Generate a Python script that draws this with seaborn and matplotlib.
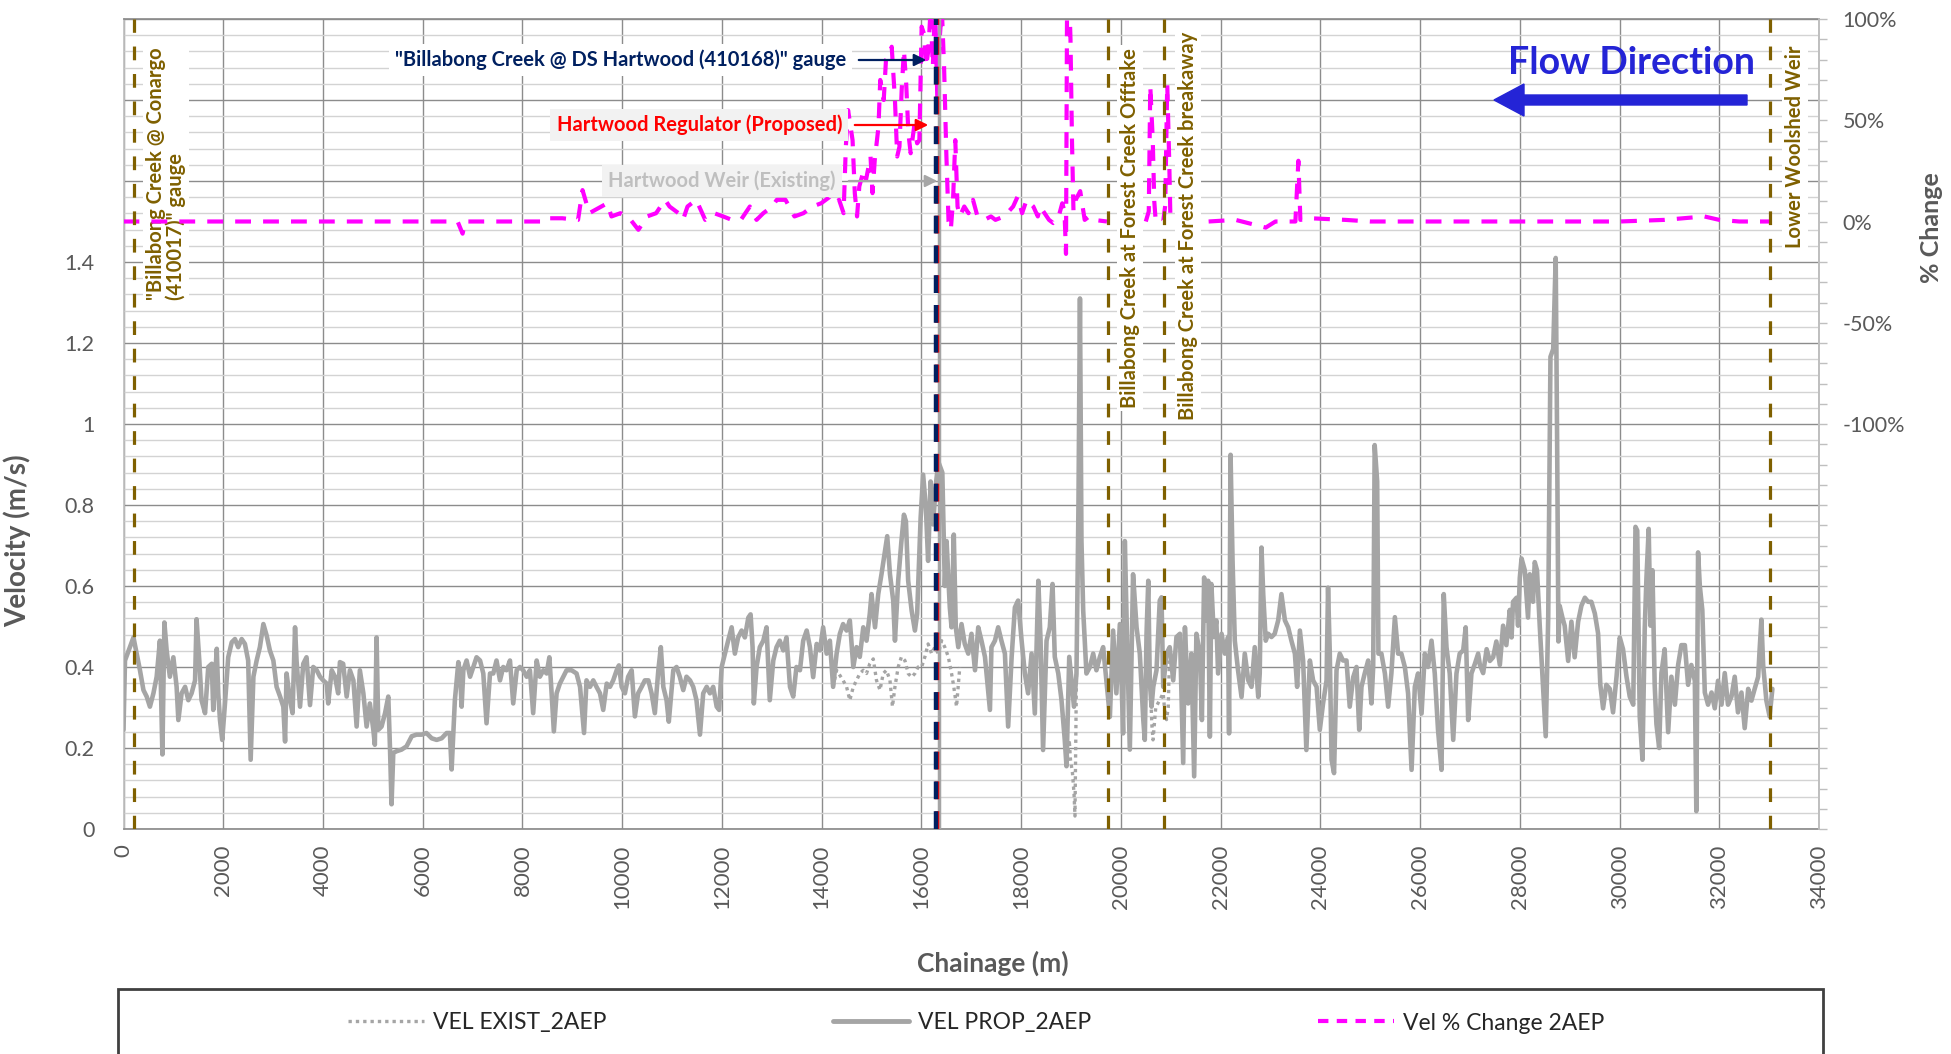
import numpy as np
import pandas as pd
import matplotlib
matplotlib.use("Agg")
import matplotlib.pyplot as plt
from matplotlib.ticker import MultipleLocator, FuncFormatter
from matplotlib.lines import Line2D
from matplotlib.patches import Rectangle, FancyArrow, FancyArrowPatch
import matplotlib.transforms as mtransforms
import seaborn as sns

# ---------------------------------------------------------------- data
# Proposed-case velocity along the creek (chainage m, velocity m/s)
chainage_prop = [
    0, 30, 200, 265, 330, 400, 465, 530, 600, 665, 730, 780, 820, 865, 930, 1000, 1065, 1100, 1165, 1235,
    1300, 1365, 1435, 1465, 1520, 1565, 1635, 1700, 1770, 1800, 1870, 1900, 1935, 1980, 2035, 2100, 2170,
    2235, 2300, 2370, 2435, 2500, 2550, 2605, 2670, 2735, 2805, 2870, 2935, 3005, 3070, 3140, 3205, 3240,
    3270, 3340, 3390, 3440, 3470, 3540, 3605, 3670, 3740, 3805, 3875, 3940, 4005, 4075, 4105, 4175, 4240,
    4305, 4340, 4405, 4475, 4540, 4610, 4675, 4740, 4810, 4875, 4940, 5010, 5040, 5075, 5110, 5175, 5245,
    5310, 5345, 5375, 5410, 5475, 5575, 5675, 5780, 5875, 5980, 6075, 6180, 6280, 6380, 6480, 6545, 6580,
    6645, 6715,
    6750, 6780, 6815, 6880, 6950, 7015, 7080, 7150, 7215, 7280, 7350, 7415, 7480, 7550, 7615, 7680, 7750,
    7815, 7885, 7950, 8015, 8085, 8150, 8215, 8285, 8350, 8420, 8485, 8540, 8585, 8630, 8685, 8750, 8820,
    8885, 8985, 9085, 9155, 9235, 9285, 9355, 9420, 9485, 9555, 9620, 9690, 9755, 9820, 9890, 9935, 9990,
    10055, 10120, 10190, 10255, 10320, 10390, 10455, 10525, 10590, 10655, 10725, 10775, 10825, 10890,
    10935, 11025, 11090, 11155, 11225, 11290, 11360, 11425, 11490, 11560, 11625, 11695, 11760, 11825,
    11895, 11945, 11995, 12060, 12125, 12195, 12260, 12325, 12395, 12460, 12530, 12575, 12615, 12640,
    12695, 12760, 12830, 12895, 12960, 13030, 13095, 13160, 13230, 13295, 13365, 13430, 13495, 13565,
    13630, 13700, 13765, 13830, 13900, 13965, 14030, 14100, 14165, 14230, 14300, 14365, 14430, 14500,
    14565, 14635, 14700, 14765, 14835, 14900, 14965, 15000, 15070, 15135, 15200, 15270, 15315, 15370,
    15435, 15470, 15535, 15600, 15650, 15690, 15735, 15805, 15870, 15915, 15985, 16035, 16090, 16135,
    16185, 16235, 16290, 16340, 16420, 16470, 16505, 16570, 16605, 16650, 16690, 16740, 16805, 16870,
    16940, 17005, 17075, 17140, 17205, 17275, 17375, 17405, 17475, 17540, 17605, 17675, 17740, 17810,
    17875, 17940, 18010, 18075, 18140, 18210, 18275, 18345, 18390, 18440, 18510, 18575, 18630, 18675,
    18745, 18810, 18875, 18910, 18965, 19010, 19060, 19110, 19150, 19180, 19210, 19245, 19310, 19380,
    19445, 19510, 19580, 19645, 19710, 19780, 19845, 19910, 19980, 20045, 20080, 20125, 20180, 20245,
    20315,
    20380, 20450, 20480, 20515, 20550, 20580, 20615, 20650, 20715, 20780, 20815, 20850, 20915, 20980,
    21050, 21115, 21185, 21250, 21285, 21350, 21415, 21470, 21515, 21585, 21625, 21670, 21715, 21750,
    21785, 21815, 21865, 21915, 21950, 22020, 22085, 22150, 22170, 22200, 22240, 22285, 22350, 22420,
    22485, 22555, 22620, 22685, 22755, 22785, 22820, 22855, 22905, 22955, 23020, 23085, 23155, 23220,
    23290, 23355, 23420, 23490, 23535, 23590, 23655, 23720, 23790, 23855, 23925, 23990, 24055, 24125,
    24155, 24190, 24225, 24275, 24325, 24390, 24455, 24525, 24590, 24660, 24725, 24780, 24825, 24890,
    24960, 25025, 25060, 25090, 25140, 25165, 25225, 25295, 25360, 25425, 25495, 25560, 25625, 25695,
    25760, 25830, 25895, 25960, 26030, 26095, 26160, 26230, 26295, 26360, 26430, 26475, 26530, 26595,
    26665, 26730, 26795, 26865, 26915, 26965, 27030, 27100, 27165,
    27200, 27265, 27335, 27400, 27465, 27530, 27600, 27665, 27730, 27800, 27835, 27865, 27935, 27965,
    28000, 28035, 28100, 28165, 28200, 28265, 28300, 28345, 28400, 28465, 28520, 28570, 28615, 28670,
    28720, 28750, 28775, 28800, 28855, 28900, 28970, 29035, 29100, 29170, 29235, 29305, 29370, 29435,
    29505, 29570, 29615, 29670, 29735, 29805, 29870, 29940, 30005, 30070, 30140, 30205, 30275, 30320,
    30355, 30405, 30460, 30505, 30540, 30585, 30620, 30660, 30705, 30740, 30795, 30840, 30905, 30975,
    31040, 31110, 31175, 31240, 31310, 31375, 31440, 31510, 31540, 31575, 31610, 31660, 31710, 31775,
    31845, 31910, 31975, 32045, 32110, 32175, 32245, 32310, 32375, 32445, 32510, 32580, 32645, 32710,
    32780, 32810, 32845, 32880, 32945, 33010, 33065,
]
vel_prop = [
    0.245, 0.416, 0.473, 0.433, 0.392, 0.343, 0.327, 0.302, 0.335, 0.376, 0.465, 0.184, 0.510, 0.441, 0.376,
    0.424, 0.351, 0.269, 0.335, 0.351, 0.318, 0.335, 0.367, 0.518, 0.416, 0.318, 0.286, 0.400, 0.408, 0.294,
    0.445, 0.335, 0.269, 0.220, 0.310, 0.424, 0.461, 0.469, 0.449, 0.469, 0.457, 0.416, 0.171, 0.376, 0.416,
    0.449, 0.506, 0.478, 0.441, 0.416, 0.351, 0.327, 0.302, 0.216, 0.384, 0.318, 0.286, 0.498, 0.416, 0.302,
    0.408, 0.424, 0.306, 0.400, 0.392, 0.376, 0.367, 0.359, 0.310, 0.392, 0.376, 0.335, 0.412, 0.408, 0.327,
    0.392, 0.367, 0.253, 0.392, 0.335, 0.253, 0.310, 0.245, 0.208, 0.473, 0.245, 0.253, 0.286, 0.327, 0.196,
    0.061, 0.188, 0.192, 0.196, 0.204, 0.229, 0.233, 0.233, 0.237, 0.224, 0.220, 0.224, 0.237, 0.237, 0.147,
    0.318, 0.412,
    0.384, 0.302, 0.392, 0.416, 0.376, 0.400, 0.424, 0.416, 0.384, 0.261, 0.384, 0.384, 0.416, 0.367, 0.400,
    0.392, 0.416, 0.310, 0.392, 0.400, 0.392, 0.376, 0.392, 0.286, 0.416, 0.376, 0.392, 0.384, 0.424, 0.335,
    0.241, 0.335, 0.359, 0.376, 0.392, 0.392, 0.384, 0.351, 0.237, 0.367, 0.351, 0.367, 0.351, 0.335, 0.294,
    0.359, 0.351, 0.367, 0.392, 0.404, 0.351, 0.335, 0.376, 0.392, 0.278, 0.335, 0.351, 0.367, 0.367, 0.335,
    0.286, 0.392, 0.449, 0.351, 0.318, 0.265, 0.392, 0.400, 0.376, 0.343, 0.376, 0.367, 0.351, 0.318, 0.233,
    0.335, 0.351, 0.335, 0.351, 0.302, 0.294, 0.400, 0.433, 0.465, 0.498, 0.433, 0.473, 0.490, 0.473, 0.522,
    0.530, 0.449, 0.310, 0.400, 0.449, 0.465, 0.498, 0.318, 0.416, 0.449, 0.465, 0.441, 0.473, 0.351, 0.327,
    0.400, 0.392,
    0.465, 0.490, 0.449, 0.375, 0.457, 0.441, 0.498, 0.433, 0.465, 0.351, 0.433, 0.482, 0.506, 0.490, 0.515,
    0.400, 0.449, 0.425, 0.498, 0.465, 0.531, 0.580, 0.498, 0.580, 0.629, 0.686, 0.723, 0.629, 0.564, 0.465,
    0.613, 0.711, 0.776, 0.760, 0.613, 0.539, 0.490, 0.531, 0.768, 0.875, 0.793, 0.662, 0.858, 0.752, 0.850,
    0.907, 0.880, 0.600, 0.711, 0.547, 0.498, 0.727, 0.498, 0.449, 0.506, 0.457, 0.433, 0.482, 0.392, 0.498,
    0.465, 0.425, 0.294, 0.449, 0.465, 0.498, 0.465, 0.433, 0.253, 0.425, 0.547, 0.564, 0.465, 0.384, 0.335,
    0.433, 0.285, 0.613, 0.465, 0.195, 0.465, 0.498, 0.605, 0.425, 0.384, 0.318, 0.220, 0.155, 0.425, 0.367,
    0.302, 0.384, 0.800, 1.310, 0.711, 0.539, 0.384, 0.400, 0.433, 0.392, 0.425, 0.449, 0.367, 0.277, 0.490,
    0.335, 0.506, 0.236, 0.711, 0.465, 0.196, 0.629, 0.498,
    0.433, 0.269, 0.220, 0.482, 0.613, 0.367, 0.302, 0.351, 0.392, 0.564, 0.572, 0.351, 0.433, 0.449, 0.367,
    0.474, 0.482, 0.163, 0.498, 0.310, 0.433, 0.130, 0.482, 0.433, 0.269, 0.621, 0.515, 0.613, 0.228, 0.605,
    0.474, 0.515, 0.384, 0.482, 0.433, 0.474, 0.236, 0.924, 0.662, 0.465, 0.392, 0.326, 0.433, 0.367, 0.351,
    0.449, 0.326, 0.384, 0.695, 0.580, 0.465, 0.482, 0.474, 0.482, 0.515, 0.580, 0.515, 0.498, 0.465, 0.433,
    0.351, 0.490, 0.416, 0.195, 0.416, 0.367, 0.351, 0.245, 0.310, 0.367, 0.596, 0.433, 0.171, 0.138, 0.392,
    0.433, 0.416, 0.416, 0.302, 0.375, 0.400, 0.245, 0.351, 0.384, 0.416, 0.310, 0.400, 0.948, 0.858, 0.433,
    0.433, 0.384, 0.302, 0.384, 0.523, 0.433, 0.433, 0.400, 0.335, 0.146, 0.351, 0.384, 0.285, 0.433, 0.400,
    0.465, 0.384, 0.245, 0.146, 0.580, 0.449, 0.384, 0.220, 0.384, 0.433, 0.441, 0.498, 0.269, 0.384, 0.408,
    0.433,
    0.405, 0.385, 0.444, 0.415, 0.424, 0.463, 0.405, 0.502, 0.454, 0.541, 0.473, 0.561, 0.571, 0.502, 0.620,
    0.668, 0.639, 0.522, 0.629, 0.561, 0.659, 0.639, 0.502, 0.356, 0.229, 0.522, 1.166, 1.185, 1.410, 0.932,
    0.463, 0.551, 0.522, 0.502, 0.415, 0.512, 0.424, 0.512, 0.551, 0.571, 0.561, 0.561, 0.532, 0.483, 0.356,
    0.298, 0.356, 0.346, 0.288, 0.376, 0.473, 0.444, 0.376, 0.327, 0.307, 0.746, 0.737, 0.278, 0.171, 0.493,
    0.620, 0.741, 0.502, 0.639, 0.356, 0.259, 0.200, 0.385, 0.444, 0.239, 0.376, 0.307, 0.405, 0.454, 0.454,
    0.356, 0.405, 0.366, 0.044, 0.683, 0.600, 0.541, 0.337, 0.307, 0.337, 0.298, 0.366, 0.307, 0.385, 0.307,
    0.327, 0.376, 0.288, 0.337, 0.249, 0.346, 0.317, 0.346, 0.376, 0.444, 0.517, 0.405, 0.317, 0.278, 0.346,
]

# Existing-case velocity, listed only on the reaches where it departs from the proposed case
exist_reach = [1] * 39 + [2] * 7 + [3] * 10
exist_chainage = [
    14230, 14300, 14430, 14500, 14565, 14635, 14700, 14765, 14835, 14900, 14965, 15035, 15100, 15170,
    15235, 15300, 15370, 15420, 15470, 15535, 15600, 15670, 15735, 15805, 15870, 15935, 16005, 16070,
    16135, 16205, 16270, 16340, 16405, 16470, 16540, 16605, 16650, 16705, 16770,
    18910, 18965, 18990, 19030, 19060, 19080, 19110,
    20580, 20600, 20620, 20645, 20700, 20850, 20880, 20915, 20950, 20980,
]
exist_velocity = [
    0.351, 0.392, 0.367, 0.351, 0.318, 0.351, 0.367, 0.384, 0.392, 0.384, 0.408, 0.420, 0.367, 0.343,
    0.384, 0.392, 0.367, 0.302, 0.351, 0.400, 0.425, 0.416, 0.384, 0.375, 0.384, 0.400, 0.400, 0.425,
    0.457, 0.433, 0.449, 0.433, 0.465, 0.449, 0.425, 0.384, 0.351, 0.302, 0.400,
    0.155, 0.220, 0.171, 0.138, 0.089, 0.032, 0.384,
    0.367, 0.330, 0.260, 0.220, 0.300, 0.335, 0.290, 0.270, 0.300, 0.449,
]

# Percentage change in velocity, one list per plotted reach
pct_chainage_r1 = [
    0, 6700, 6800, 6850, 8500, 8535, 8800, 9115, 9205, 9340,
    9700, 9785, 9965, 10145, 10325, 10500, 10680, 10860, 10950, 11130,
    11220, 11310, 11485, 11665, 11845, 12025, 12200, 12380, 12560, 12695,
    12830, 13010, 13100, 13275, 13455, 13635, 13815, 13990, 14170, 14260,
    14350, 14440, 14485, 14530, 14620, 14665, 14710, 14755, 14845, 14890,
    14980, 15020, 15065, 15140, 15175, 15245, 15290, 15380, 15405, 15470,
    15515, 15560, 15605, 15650, 15695, 15740, 15785, 15855, 15915, 15960,
    16005, 16050, 16095, 16140, 16185, 16230, 16275, 16320, 16365, 16410,
    16455, 16500, 16545, 16590, 16635, 16680, 16725, 16770, 16860, 16945,
    17035, 17125, 17260, 17395, 17485, 17660, 17840, 17930, 18020, 18110,
    18245, 18335, 18380, 18470, 18560, 18645, 18735, 18825, 18870, 18900,
    18925, 18960, 18990, 19020, 19050, 19095, 19185, 19275, 19365, 19455,
    19720,
]
pct_change_r1 = [
    0, 0, -6, 0, 0, 1.6, 1.6, 0.8, 15.5, 4.1,
    9.0, 2.5, 4.1, 1.6, -4.1, 2.5, 4.1, 10.7, 7.4, 4.1,
    0.8, 7.4, 10.7, 0.8, 4.1, 2.5, 0.8, 0.8, 7.4, 0.8,
    4.1, 7.4, 10.7, 10.7, 2.5, 4.1, 7.4, 9.0, 12.3, 9.0,
    10.7, 4.1, 36.9, 55.0, 40.2, 14.0, 2.5, 17.3, 25.5, 20.6,
    32.1, 14.0, 30.4, 46.9, 69.9, 60.0, 79.8, 83.1, 86.3, 60.0,
    32.1, 36.9, 65.0, 84.7, 68.2, 43.5, 33.7, 46.9, 38.6, 40.2,
    96.2, 92.9, 76.5, 84.7, 105, 76.5, 108, 60.0, 89.6, 105,
    76.5, 33.7, 0, -4.1, 10.7, 40.2, 7.4, 2.5, 7.4, 4.1,
    10.7, 2.5, 0.8, 2.5, 0.8, 2.5, 7.4, 12.3, 4.1, 10.7,
    7.4, 2.5, 7.4, 4.1, 0.8, -0.8, 0.8, 9.0, 5.0, -16.0,
    130, 115, 90, 40, 5.0, 10.7, 15.0, 0.8, 2.5, 0.8,
    0,
]
pct_chainage_r2 = [20500, 20560, 20590, 20640, 20670, 20700, 20850, 20890, 20930, 20970, 20995]
pct_change_r2 = [0, 5, 67, 40, 10, 0, 0, 8, 68, 30, 0]
pct_chainage_r3 = [21760, 22300, 22905, 23100, 23500, 23560, 23600, 23800, 24500, 25000, 30000,
                   30900, 31700, 32000, 32400, 33040]
pct_change_r3 = [0, 0.8, -3, 0, 0, 30, 0.8, 1.6, 0.8, 0, 0, 0.8, 2.5, 0.8, 0, 0]

# Reference features along the creek
feature_names = [
    '"Billabong Creek @ Conargo\n(410017)" gauge',
    "Billabong Creek at Forest Creek Offtake",
    "Billabong Creek at Forest Creek breakaway",
    "Lower Woolshed Weir",
]
feature_chainage = [210, 19750, 20860, 33020]
hartwood_names = [
    "Hartwood Weir (Existing)",
    "Hartwood Regulator (Proposed)",
    '"Billabong Creek @ DS Hartwood (410168)" gauge',
]
hartwood_chainage = [16360, 16320, 16290]

legend_labels = ["VEL EXIST_2AEP", "VEL PROP_2AEP", "Vel % Change 2AEP"]

# ---------------------------------------------------------------- style
sns.set_theme(style="white")
plt.rcParams["font.family"] = ["Lato", "DejaVu Sans"]

GREY_TXT = "#595959"
VEL_GREY = "#A5A5A5"
MAGENTA = "#FF00FF"
BROWN = "#7F6000"
NAVY = "#002060"

W, H = 1951, 1054
fig = plt.figure(figsize=(W / 100, H / 100), dpi=100)
fig.patch.set_facecolor("white")


def fx(px):
    return px / W


def fy(py):
    return 1 - py / H


ax = fig.add_axes([fx(123.5), fy(829), fx(1819) - fx(123.5), (829 - 19) / H])
ax.set_facecolor("white")

prop_df = pd.DataFrame({"chainage": chainage_prop, "velocity": vel_prop})
exist_df = pd.DataFrame({"chainage": exist_chainage, "velocity": exist_velocity, "reach": exist_reach})
pct_df = pd.concat([
    pd.DataFrame({"chainage": c, "pct": p, "reach": i})
    for i, (c, p) in enumerate([(pct_chainage_r1, pct_change_r1),
                                (pct_chainage_r2, pct_change_r2),
                                (pct_chainage_r3, pct_change_r3)], start=1)
], ignore_index=True)

sns.lineplot(data=exist_df, x="chainage", y="velocity", units="reach", estimator=None, sort=False,
             ax=ax, color=VEL_GREY, lw=2.4, linestyle=(0, (1, 1.2)), legend=False, zorder=2)
sns.lineplot(data=prop_df, x="chainage", y="velocity", estimator=None, sort=False,
             ax=ax, color=VEL_GREY, lw=3.3, legend=False, zorder=3)

ax.set_xlim(0, 34000)
ax.set_ylim(0, 2.0)
ax.xaxis.set_major_locator(MultipleLocator(2000))
ax.yaxis.set_major_locator(MultipleLocator(0.2))
ax.yaxis.set_minor_locator(MultipleLocator(0.04))
ax.set_axisbelow(True)
ax.grid(which="major", color="#8C8C8C", lw=1.0)
ax.grid(which="minor", axis="y", color="#D3D3D3", lw=1.0)
ax.grid(which="minor", axis="x", visible=False)


def vel_fmt(v, _):
    v = round(v, 2)
    if v > 1.41:
        return ""
    return "0" if v == 0 else f"{v:g}"


ax.yaxis.set_major_formatter(FuncFormatter(vel_fmt))
ax.xaxis.set_major_formatter(FuncFormatter(lambda v, _: f"{int(round(v))}"))
ax.tick_params(axis="y", which="both", length=0, pad=21, labelsize=15.5, labelcolor=GREY_TXT)
ax.tick_params(axis="x", which="both", length=0, pad=11, labelsize=16, labelcolor=GREY_TXT,
               labelrotation=90)
for side in ["left", "right"]:
    ax.spines[side].set_color("#BFBFBF")
for side in ["top", "bottom"]:
    ax.spines[side].set_color("#8C8C8C")

ax.set_xlabel("Chainage (m)", fontsize=19, fontweight="bold", color=GREY_TXT)
ax.xaxis.set_label_coords(0.5128, -0.150)
ax.set_ylabel("Velocity (m/s)", fontsize=20, fontweight="bold", color=GREY_TXT)
ax.yaxis.set_label_coords(-0.0546, 0.3556)

# ---------------------------------------------------------------- % change axis
ax2 = ax.twinx()
sns.lineplot(data=pct_df, x="chainage", y="pct", units="reach", estimator=None, sort=False,
             ax=ax2, color=MAGENTA, lw=3.0, linestyle=(0, (3.8, 2.9)), legend=False, zorder=3)
ax2.set_ylim(-300, 100)
ax2.set_xlim(0, 34000)
ax2.yaxis.set_major_locator(MultipleLocator(50))
ax2.yaxis.set_minor_locator(MultipleLocator(10))


def pct_fmt(v, _):
    v = int(round(v))
    return f"{v}%" if -100 <= v <= 100 else ""


ax2.yaxis.set_major_formatter(FuncFormatter(pct_fmt))
ax2.tick_params(axis="y", which="both", length=6, width=1, color="#BFBFBF", direction="out",
                pad=11, labelsize=15.5, labelcolor=GREY_TXT)
for side in ["left", "top", "bottom"]:
    ax2.spines[side].set_visible(False)
ax2.spines["right"].set_color("#BFBFBF")
ax2.set_ylabel("% Change", fontsize=18, fontweight="bold", color=GREY_TXT, rotation=90)
ax2.yaxis.set_label_coords(1.0596, 0.743)

# ---------------------------------------------------------------- reference lines
for c in feature_chainage:
    ax2.axvline(c, color=BROWN, lw=2.3, linestyle=(0, (4.3, 4.3)), zorder=4)

ax2.axvline(hartwood_chainage[0], color=VEL_GREY, lw=2.5, zorder=4)
ax2.axvline(hartwood_chainage[1], color="#FF0000", lw=3.2, linestyle=(0, (4, 2.7)), zorder=5)
ax2.axvline(hartwood_chainage[2], color=NAVY, lw=3.2, linestyle=(0, (4, 2.7)), zorder=6)

blend = mtransforms.blended_transform_factory(ax2.transData, ax2.transAxes)
label_bottoms = [0.653, 0.520, 0.505, 0.717]
label_offsets = [640, 435, 486, 497]
for name, c, yb, off in zip(feature_names, feature_chainage, label_bottoms, label_offsets):
    ax2.text(c + off, yb, name, transform=blend, rotation=90, ha="center", va="bottom",
             multialignment="left", fontsize=14.5, fontweight="bold", color=BROWN, zorder=2,
             linespacing=1.0,
             bbox=dict(boxstyle="square,pad=0.15", facecolor="white", edgecolor="none"))

# ---------------------------------------------------------------- Hartwood annotations
ann = [
    (hartwood_names[2], 846, 60, NAVY, "white", NAVY, 929),
    (hartwood_names[1], 842, 125, "#FF0000", "#F2F2F2", "#FF0000", 931),
    (hartwood_names[0], 836, 181, "#BFBFBF", "#F2F2F2", "#A6A6A6", 940),
]
for text, xr, yc, tcol, bcol, acol, xa in ann:
    fig.text(fx(xr), fy(yc), text, ha="right", va="center", fontsize=14.5, fontweight="bold",
             color=tcol, zorder=7,
             bbox=dict(boxstyle="square,pad=0.3", facecolor=bcol, edgecolor="none"))
    fig.add_artist(FancyArrowPatch(
        (fx(xr + 10), fy(yc)), (fx(xa), fy(yc)), transform=fig.transFigure,
        arrowstyle="-|>", mutation_scale=18, color=acol, lw=1.6, zorder=8))

# ---------------------------------------------------------------- flow direction
fig.text(fx(1631), fy(63), "Flow Direction", ha="center", va="center", fontsize=27,
         fontweight="bold", color="#2424D6", zorder=7)
fig.add_artist(FancyArrow(fx(1747), fy(100), -(fx(1747) - fx(1494)), 0, width=10 / H,
                          head_width=32 / H, head_length=30 / W, length_includes_head=True,
                          transform=fig.transFigure, color="#2424D6", zorder=7))

# ---------------------------------------------------------------- legend
fig.add_artist(Rectangle((fx(118), fy(1075)), fx(1823) - fx(118), (1075 - 989) / H,
                         transform=fig.transFigure, fill=False, edgecolor="#404040", lw=2))
handles = [
    Line2D([], [], color=VEL_GREY, lw=2.4, linestyle=(0, (1, 1.2))),
    Line2D([], [], color=VEL_GREY, lw=3.5),
    Line2D([], [], color=MAGENTA, lw=3.0, linestyle=(0, (2.5, 2.0))),
]
fig.legend(handles, legend_labels, loc="center", bbox_to_anchor=(fx(976), fy(1023)), ncol=3,
           frameon=False, fontsize=16.5, handlelength=3.3, handletextpad=0.4, columnspacing=9.9,
           labelcolor="#262626")

fig.savefig("out.png", dpi=100, facecolor="white")
